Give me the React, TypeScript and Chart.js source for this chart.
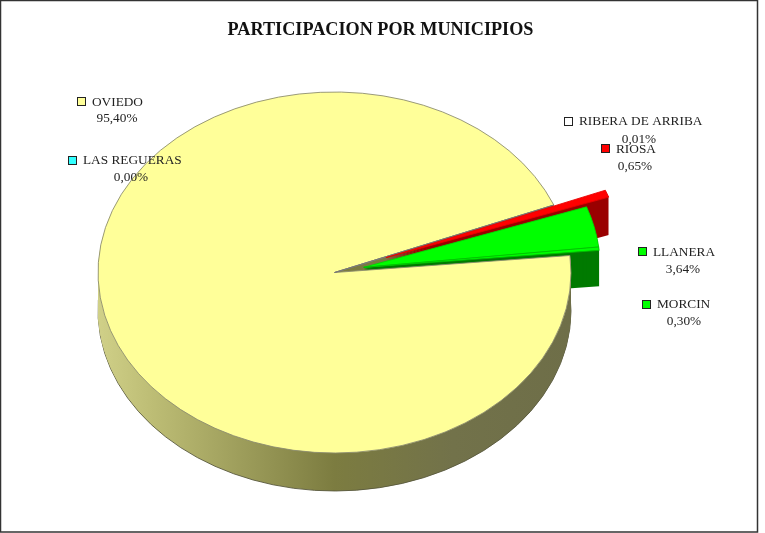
import React, { useEffect, useRef } from "react";
import { Chart, registerables } from "chart.js";

Chart.register(...registerables);

const titleText = "PARTICIPACION POR MUNICIPIOS";
const municipios = ["OVIEDO", "LAS REGUERAS", "RIBERA DE ARRIBA", "RIOSA", "LLANERA", "MORCIN"];
const participacion = [95.4, 0.0, 0.01, 0.65, 3.64, 0.3];

const topColors = ["#FFFF99", "#33FFFF", "#FFFFFF", "#FF0000", "#00FF00", "#00FF00"];
const edgeColors = ["#8c8c70", "#333333", "#777777", "#e80000", "#00d800", "#00c000"];
const keyColors = ["#FFFF99", "#33FFFF", "#FFFFFF", "#FF0000", "#00FF00", "#00FF00"];
const wallColors = ["", "#1a8080", "#808080", "#9a0000", "#007a00", "#007a00"];
const explode = [0, 0, 0, 55, 30, 30];
const explodeAlong = [0, 1, 2, 3, 4, 4];
const wallDepth = [38, 38, 38, 38, 38, 36];

// label layout: key box x/y, text x/y, percent centre x/y
const labelLayout = [
  { kx: 78, ky: 98, tx: 92, ty: 103, px: 117, py: 119 },
  { kx: 69, ky: 157, tx: 83, ty: 161, px: 131, py: 178 },
  { kx: 565, ky: 118, tx: 579, ty: 122, px: 639, py: 140 },
  { kx: 602, ky: 145, tx: 616, ty: 150, px: 635, py: 167 },
  { kx: 639, ky: 248, tx: 653, ty: 253, px: 683, py: 270 },
  { kx: 643, ky: 301, tx: 657, ty: 305, px: 684, py: 322 },
];

const CX = 334.5;
const CY = 272.5;
const RX = 236.5;
const RY = 180.5;
const FONT = '"Liberation Serif", serif';

const pie3d = {
  id: "pie3d",
  beforeDatasetsDraw(chart: any) {
    const ctx = chart.ctx;
    const arcs: any[] = chart.getDatasetMeta(0).data;
    const a0 = arcs[0];
    const k = RY / RX;

    const grad = ctx.createLinearGradient(a0.x - RX, 0, a0.x + RX, 0);
    grad.addColorStop(0, "#d0d088");
    grad.addColorStop(0.12, "#bcbc74");
    grad.addColorStop(0.5, "#7c7c40");
    grad.addColorStop(0.75, "#72724a");
    grad.addColorStop(1, "#6e6e48");

    const drawArc = (arc: any, i: number, over: any, dy: number) => {
      ctx.save();
      ctx.translate(CX, CY + dy);
      ctx.scale(1, k);
      ctx.translate(-arc.x, -arc.y);
      const dirArc = arcs[explodeAlong[i]];
      const mid = (dirArc.startAngle + dirArc.endAngle) / 2;
      ctx.translate(Math.cos(mid) * explode[i], Math.sin(mid) * explode[i]);
      const saved = arc.options;
      if (over) arc.options = over;
      arc.draw(ctx);
      arc.options = saved;
      ctx.restore();
    };
    const wallOpts = (bg: any, bc: string, bw: number) => ({
      backgroundColor: bg,
      borderColor: bc,
      borderWidth: bw,
      borderAlign: "center",
      borderJoinStyle: "round",
      borderDash: [],
      borderDashOffset: 0,
      offset: 0,
      spacing: 0,
      circular: true,
    });

    for (let d = 38; d >= 1; d--) {
      arcs.forEach((arc, i) => {
        if (d > wallDepth[i]) return;
        const bg = i === 0 ? grad : wallColors[i];
        const bottom = d === wallDepth[i] && i === 0;
        drawArc(arc, i, wallOpts(bg, bottom ? "#55553a" : bg, bottom ? 1 : 0), d);
      });
    }
    arcs.forEach((arc, i) => drawArc(arc, i, null, 0));
    return false;
  },
  afterDraw(chart: any) {
    const ctx = chart.ctx;
    ctx.save();
    ctx.textBaseline = "middle";
    municipios.forEach((name, i) => {
      const l = labelLayout[i];
      ctx.font = `13.3px ${FONT}`;
      ctx.fillStyle = keyColors[i];
      ctx.strokeStyle = "#222222";
      ctx.lineWidth = 1;
      ctx.fillRect(l.kx, l.ky, 7, 7);
      ctx.strokeRect(l.kx - 0.5, l.ky - 0.5, 8, 8);
      ctx.fillStyle = "#222222";
      ctx.textAlign = "left";
      ctx.fillText(name, l.tx, l.ty);
      ctx.textAlign = "center";
      ctx.fillText(participacion[i].toFixed(2).replace(".", ",") + "%", l.px, l.py);
    });
    ctx.strokeStyle = "#333333";
    ctx.lineWidth = 1.5;
    ctx.strokeRect(0.5, 0.5, 757, 531.5);
    ctx.restore();
  },
};

export default function App() {
  const ref = useRef<HTMLCanvasElement>(null);
  useEffect(() => {
    document.body.style.margin = "0";
    document.body.style.background = "#ffffff";
    const chart = new Chart(ref.current as HTMLCanvasElement, {
      type: "pie",
      data: {
        labels: municipios,
        datasets: [
          {
            data: participacion,
            backgroundColor: topColors,
            borderColor: edgeColors,
            borderWidth: 1,
          },
        ],
      },
      options: {
        responsive: false,
        animation: false,
        rotation: 84.6,
        radius: RX,
        devicePixelRatio: 1,
        layout: { padding: { left: 0, right: 0, top: 0, bottom: 0 } },
        plugins: {
          legend: { display: false },
          tooltip: { enabled: false },
          title: {
            display: true,
            text: titleText,
            color: "#111111",
            font: { family: FONT, size: 18.2, weight: "bold" },
            padding: { top: 19, bottom: 10 },
          },
        },
      },
      plugins: [pie3d],
    } as any);
    return () => chart.destroy();
  }, []);
  return <canvas ref={ref} width={761} height={533} style={{ display: "block" }} />;
}
